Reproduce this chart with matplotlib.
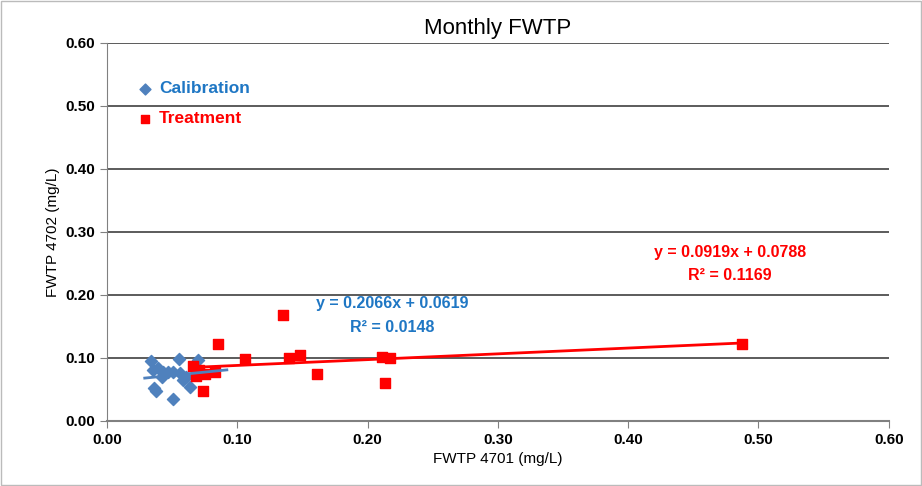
import numpy as np
import matplotlib.pyplot as plt

plt.rcParams['font.family'] = ['Liberation Sans', 'DejaVu Sans']

# calibration period (blue diamonds)
cal_x = [0.034, 0.055, 0.070, 0.035, 0.039, 0.043, 0.047, 0.051, 0.056, 0.042,
         0.058, 0.064, 0.036, 0.038, 0.051, 0.061]
cal_y = [0.095, 0.098, 0.097, 0.081, 0.084, 0.078, 0.078, 0.078, 0.076, 0.070,
         0.065, 0.054, 0.052, 0.047, 0.035, 0.070]

# treatment period (red squares)
trt_x = [0.066, 0.068, 0.071, 0.074, 0.075, 0.083, 0.085, 0.106, 0.135, 0.140,
         0.148, 0.161, 0.211, 0.213, 0.217, 0.487]
trt_y = [0.087, 0.072, 0.080, 0.047, 0.074, 0.077, 0.122, 0.098, 0.168, 0.099,
         0.104, 0.074, 0.102, 0.060, 0.100, 0.122]

# trend line coefficients as printed on the chart
cal_fit = (0.2066, 0.0619, 0.0148)
trt_fit = (0.0919, 0.0788, 0.1169)

blue = '#4F81BD'
blue_txt = '#1F77C4'
red = '#FF0000'

fig = plt.figure(figsize=(9.22, 4.86), dpi=100)
ax = fig.add_axes([0.116, 0.134, 0.848, 0.778])

ax.scatter(cal_x, cal_y, marker='D', s=38, color=blue, label='Calibration', zorder=3)
ax.scatter(trt_x, trt_y, marker='s', s=45, color=red, label='Treatment', zorder=3)

xs = np.array([min(cal_x) - 0.005, max(cal_x) + 0.022])
ax.plot(xs, cal_fit[0] * xs + cal_fit[1], color=blue, lw=2, zorder=4)
xs = np.array([min(trt_x), max(trt_x)])
ax.plot(xs, trt_fit[0] * xs + trt_fit[1], color=red, lw=2, zorder=2)

ax.text(0.219, 0.186, 'y = %.4fx + %.4f' % cal_fit[:2], color=blue_txt,
        fontsize=11.5, fontweight='bold', ha='center', va='center')
ax.text(0.219, 0.148, 'R² = %.4f' % cal_fit[2], color=blue_txt,
        fontsize=11.5, fontweight='bold', ha='center', va='center')
ax.text(0.478, 0.267, 'y = %.4fx + %.4f' % trt_fit[:2], color=red,
        fontsize=11.5, fontweight='bold', ha='center', va='center')
ax.text(0.478, 0.230, 'R² = %.4f' % trt_fit[2], color=red,
        fontsize=11.5, fontweight='bold', ha='center', va='center')

ax.set_xlim(0, 0.6)
ax.set_ylim(0, 0.6)
ax.set_xticks(np.arange(0, 0.61, 0.1))
ax.set_yticks(np.arange(0, 0.61, 0.1))
ax.set_xticklabels(['%.2f' % v for v in np.arange(0, 0.61, 0.1)])
ax.set_yticklabels(['%.2f' % v for v in np.arange(0, 0.61, 0.1)])
for lab in ax.get_xticklabels() + ax.get_yticklabels():
    lab.set_fontweight('bold')
    lab.set_fontsize(11)
ax.tick_params(direction='out', length=5, color='#808080')
ax.yaxis.grid(True, color='#404040', lw=1.2)
ax.set_axisbelow(True)
for s in ['top', 'right']:
    ax.spines[s].set_visible(False)
ax.spines['left'].set_color('#808080')
ax.spines['bottom'].set_color('#808080')
ax.spines['bottom'].set_linewidth(1.5)

ax.set_xlabel('FWTP 4701 (mg/L)', fontsize=11)
ax.set_ylabel('FWTP 4702 (mg/L)', fontsize=11)
ax.set_title('Monthly FWTP', fontsize=16, pad=6)

leg = ax.legend(loc='upper left', bbox_to_anchor=(0.02, 0.94), frameon=False,
                handlelength=0.8, handletextpad=0.4, labelspacing=0.85,
                prop={'size': 12.5, 'weight': 'bold'},
                labelcolor=[blue_txt, red], markerscale=0.9)

fig.patches.append(plt.Rectangle((0.001, 0.002), 0.998, 0.996, transform=fig.transFigure,
                                 fill=False, edgecolor='#BBBBBB', lw=1))

fig.savefig('out.png', dpi=100)
